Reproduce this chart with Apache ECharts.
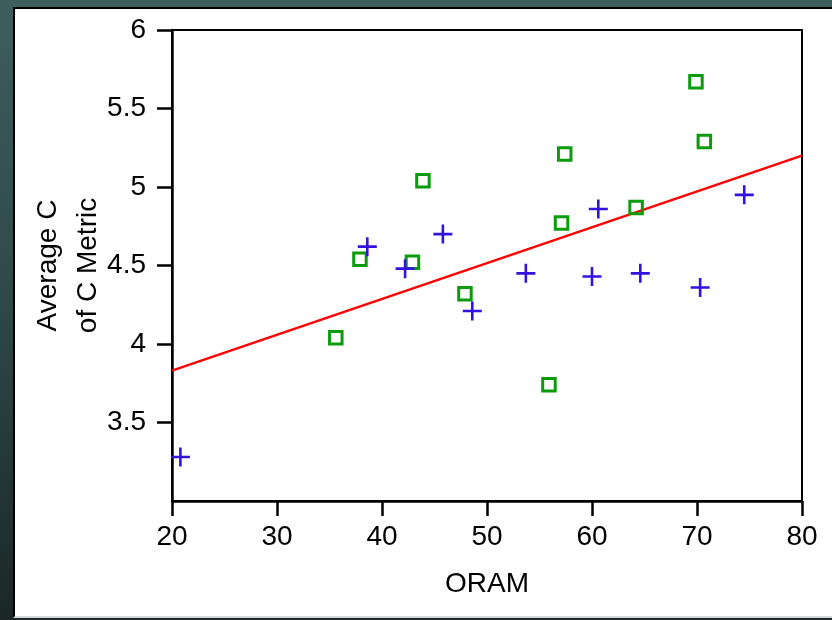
<!DOCTYPE html>
<html>
<head>
<meta charset="utf-8">
<script src="https://cdn.jsdelivr.net/npm/echarts@6/dist/echarts.min.js"></script>
<style>
  html, body { margin: 0; padding: 0; width: 832px; height: 620px; overflow: hidden; }
  body { background: linear-gradient(180deg, #3e5e5e 0%, #2f4747 50%, #1b2727 100%); position: relative; }
  #panel {
    position: absolute; left: 13px; top: 7px; width: 819px; height: 611px;
    background: #fff; border-left: 2px solid #000; border-top: 2px solid #000;
    border-bottom: 2px solid #d8d8d8; box-sizing: border-box;
  }
  #chart { position: absolute; left: 0; top: 0; width: 832px; height: 620px; }
</style>
</head>
<body>
<div id="panel"></div>
<div id="chart"></div>
<script>
// ORAM score vs average C of C metric
const plusPoints = [
  [20.8, 3.28], [38.6, 4.62], [42.2, 4.48], [45.8, 4.70], [48.6, 4.21],
  [53.7, 4.45], [60.0, 4.43], [60.6, 4.86], [64.6, 4.45], [70.3, 4.36], [74.5, 4.95]
];
const squarePoints = [
  [35.6, 4.04], [37.9, 4.54], [42.9, 4.52], [43.9, 5.04], [47.9, 4.32],
  [55.9, 3.74], [57.1, 4.77], [57.4, 5.21], [64.2, 4.87], [69.9, 5.67], [70.7, 5.29]
];
const fitLine = [[20, 3.83], [80, 5.20]];
const yTicks = [3.5, 4, 4.5, 5, 5.5, 6];

const font = '"Liberation Sans", Arial, sans-serif';
const chart = echarts.init(document.getElementById('chart'));

chart.setOption({
  animation: false,
  grid: {
    left: 172, top: 30, right: 30, bottom: 119, outerBoundsMode: 'none', containLabel: false,
    show: true, borderColor: '#000', borderWidth: 2, backgroundColor: 'transparent'
  },
  xAxis: {
    type: 'value', min: 20, max: 80, interval: 10,
    name: 'ORAM', nameLocation: 'middle', nameGap: 69, nameMoveOverlap: false,
    nameTextStyle: { fontFamily: font, fontSize: 28, color: '#000' },
    axisLine: { onZero: false, lineStyle: { color: '#000', width: 2.5 } },
    axisTick: { length: 15, lineStyle: { color: '#000', width: 2.5 } },
    axisLabel: { margin: 22, fontFamily: font, fontSize: 28, color: '#000' },
    splitLine: { show: false }
  },
  yAxis: {
    type: 'value', min: 3, max: 6, interval: 0.5,
    name: 'Average C\nof C Metric', nameLocation: 'middle', nameGap: 64, nameRotate: 90,
    nameMoveOverlap: false,
    nameTextStyle: { fontFamily: font, fontSize: 28, color: '#000', lineHeight: 40 },
    axisLine: { onZero: false, lineStyle: { color: '#000', width: 2.5 } },
    axisTick: { length: 15, customValues: yTicks, lineStyle: { color: '#000', width: 2.5 } },
    axisLabel: { margin: 26, customValues: yTicks, fontFamily: font, fontSize: 28, color: '#000' },
    splitLine: { show: false }
  },
  series: [
    {
      type: 'line', data: fitLine, symbol: 'none', z: 1,
      lineStyle: { color: '#ff0000', width: 2.5 }
    },
    {
      type: 'scatter', data: plusPoints, z: 3,
      symbol: 'path://M0,5H10M5,0V10', symbolSize: 19,
      itemStyle: { color: 'none', borderColor: '#3212dc', borderWidth: 2.6, opacity: 1 }
    },
    {
      type: 'scatter', data: squarePoints, z: 2,
      symbol: 'rect', symbolSize: 12.5,
      itemStyle: { color: 'rgba(255,255,255,0)', borderColor: '#0a9c0a', borderWidth: 3, opacity: 1 }
    }
  ]
});
</script>
</body>
</html>
